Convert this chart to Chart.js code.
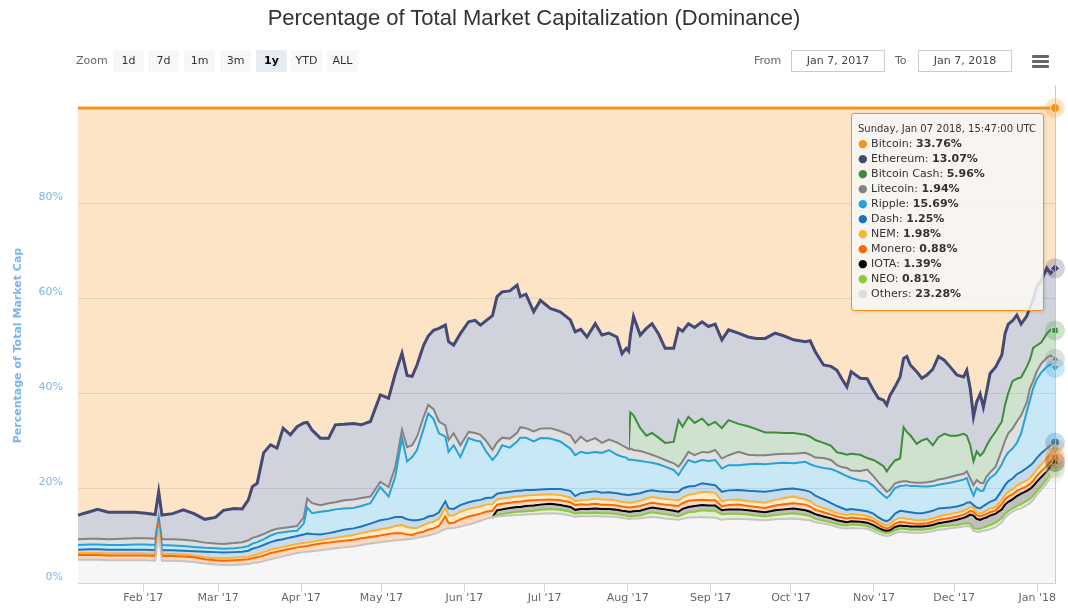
<!DOCTYPE html>
<html>
<head>
<meta charset="utf-8">
<title>Dominance</title>
<script src="https://cdn.jsdelivr.net/npm/chart.js@4/dist/chart.umd.min.js"></script>
<style>
  body { margin: 0; background: #fff; font-family: "DejaVu Sans", sans-serif; }
  #wrap { position: relative; width: 1068px; height: 608px; overflow: hidden; }
  #dominance { position: absolute; left: 0; top: 0; }
  .title { position: absolute; left: 0; top: 7px; width: 1068px; text-align: center;
           font: 22px/22px "Liberation Sans", Arial, sans-serif; color: #333; }
  .lbl { position: absolute; top: 50px; height: 22px; line-height: 22px; font-size: 11px; color: #666; }
  .btn { position: absolute; top: 50px; width: 31px; height: 22px; line-height: 22px; text-align: center;
         font-size: 11px; color: #333; background: #f7f7f7; border-radius: 2px; }
  .btn.on { background: #e6ebf5; color: #000; font-weight: bold; }
  .box { position: absolute; top: 50px; width: 92px; height: 20px; line-height: 20px; border: 1px solid #ccc;
         text-align: center; font-size: 11px; color: #444; }
  .bar { position: absolute; left: 1032px; width: 17px; height: 3px; background: #666; border-radius: 1px; }
  #tip { position: absolute; display: none; width: 193px; box-sizing: border-box; background: rgba(247,247,247,0.85);
         border: 1px solid #f7931a; border-radius: 3px; padding: 7px 6px 9px 6px; font-size: 11px; line-height: 15px;
         color: #333; white-space: nowrap; box-shadow: 1px 1px 3px rgba(0,0,0,0.12); }
  #tip .tt { font-size: 10px; }
</style>
</head>
<body>
<div id="wrap">
  <canvas id="dominance" width="1068" height="608"></canvas>
  <div class="title">Percentage of Total Market Capitalization (Dominance)</div>
  <div class="lbl" style="left:76px">Zoom</div>
  <div class="btn" style="left:113px">1d</div>
  <div class="btn" style="left:148px">7d</div>
  <div class="btn" style="left:184px">1m</div>
  <div class="btn" style="left:220px">3m</div>
  <div class="btn on" style="left:256px">1y</div>
  <div class="btn" style="left:291px">YTD</div>
  <div class="btn" style="left:327px">ALL</div>
  <div class="lbl" style="left:754px">From</div>
  <div class="box" style="left:791px">Jan 7, 2017</div>
  <div class="lbl" style="left:895px">To</div>
  <div class="box" style="left:918px">Jan 7, 2018</div>
  <div class="bar" style="top:55px"></div>
  <div class="bar" style="top:60px"></div>
  <div class="bar" style="top:65px"></div>
  <div id="tip"></div>
</div>
<script>
// days since 7 Jan 2017 00:00 UTC
const dayZero = Date.UTC(2017, 0, 7);
const DAY = 86400000;

const days = [0.6576, 5, 8, 12, 17, 22, 26, 29.5, 30.8, 32,
  36, 40, 44, 48, 52, 55, 59, 62, 64.3, 65.8,
  67.6, 70, 72.6, 75, 77.3, 80, 82.5, 85, 86.3, 88.1,
  91.2, 94.3, 96.8, 100, 103.6, 106.5, 109.9, 113.6, 116.7, 119.2,
  121.7, 123.6, 125.5, 127.3, 129.8, 131.5, 133.5, 135.5, 137.9, 139.1,
  141, 143.5, 146.6, 149, 151, 153, 155.5, 157.2, 159.1, 162,
  164.7, 165.9, 168, 170.9, 173.4, 177.1, 180.8, 184.6, 186.4, 188.5,
  190.8, 193.9, 196.4, 199, 202, 203.9, 205.5, 206.4, 207, 208.2,
  210.7, 213, 215.1, 217.5, 220, 223.2, 225, 226.5, 228.7, 231,
  233.8, 236.2, 238.7, 241.2, 243.7, 247.4, 251, 254, 257.4, 261.1,
  264.5, 268, 272.4, 274.2, 276.1, 279.2, 282, 284.2, 286, 287.9,
  289.5, 292.9, 295.5, 297.8, 299.7, 301.6, 302.8, 304, 305.9, 307.8,
  309.1, 310.3, 311.6, 314, 315.9, 317.8, 320, 322.1, 324.3, 326.5,
  329, 331.5, 332.7, 334, 335.2, 336.4, 337.7, 338.9, 340, 341.4,
  343.5, 345.8, 347, 348.2, 349.8, 351.4, 353, 355.1, 356.3, 357.5,
  358.8, 360.5, 362.6, 364, 365.6576];

const others = [4.9, 4.9, 4.9, 4.8, 4.8, 4.8, 4.8, 4.7, 10.5, 4.7,
  4.7, 4.6, 4.4, 4.1, 3.9, 3.8, 3.8, 3.9, 4.0, 4.2,
  4.3, 4.6, 5.0, 5.3, 5.6, 6.0, 6.3, 6.5, 6.6, 6.7,
  6.9, 7.1, 7.3, 7.5, 7.7, 8.0, 8.3, 8.6, 8.8, 9.0,
  9.1, 9.2, 9.3, 9.5, 9.8, 10.0, 10.3, 10.7, 11.4, 11.5,
  11.6, 11.9, 12.3, 12.7, 13.1, 13.5, 13.8, 14.0, 14.1, 14.2,
  14.3, 14.3, 14.4, 14.5, 14.6, 14.7, 14.6, 14.2, 13.9, 14.1,
  14.0, 14.1, 14.0, 14.0, 13.9, 13.7, 13.6, 13.5, 13.5, 13.6,
  13.6, 13.8, 13.9, 13.8, 13.6, 13.4, 13.3, 13.5, 13.8, 13.8,
  13.9, 13.8, 13.8, 13.3, 13.5, 13.5, 13.4, 13.3, 13.2, 13.4,
  13.5, 13.6, 13.3, 13.2, 12.8, 12.5, 12.2, 11.8, 11.6, 11.5,
  11.6, 11.5, 11.4, 10.9, 10.4, 10.0, 9.9, 10.0, 10.5, 10.8,
  10.7, 10.7, 10.6, 10.6, 10.6, 10.7, 10.9, 11.2, 11.3, 11.5,
  11.7, 11.9, 12.0, 11.9, 11.0, 10.8, 10.8, 11.0, 11.1, 11.3,
  11.8, 12.8, 13.8, 14.4, 15.0, 15.5, 15.7, 16.4, 16.8, 17.5,
  18.5, 19.6, 21.0, 22.3, 23.28];

const neo = [null, null, null, null, null, null, null, null, null, null,
  null, null, null, null, null, null, null, null, null, null,
  null, null, null, null, null, null, null, null, null, null,
  null, null, null, null, null, null, null, null, null, null,
  null, null, null, null, null, null, null, null, null, null,
  null, null, null, null, null, null, 0, 0.3, 0.4, 0.6,
  0.7, 0.7, 0.7, 0.7, 0.8, 0.9, 0.8, 0.8, 0.7, 0.7,
  0.7, 0.7, 0.7, 0.7, 0.6, 0.6, 0.6, 0.5, 0.5, 0.5,
  0.6, 0.8, 1.0, 0.9, 0.9, 0.8, 0.7, 0.9, 1.1, 1.2,
  1.4, 1.4, 1.4, 1.2, 1.1, 1.1, 1.0, 0.9, 0.8, 0.9,
  1.0, 1.1, 1.0, 0.9, 0.7, 0.6, 0.6, 0.6, 0.6, 0.6,
  0.7, 0.7, 0.6, 0.6, 0.6, 0.6, 0.6, 0.6, 0.6, 0.6,
  0.7, 0.6, 0.6, 0.6, 0.6, 0.6, 0.6, 0.7, 0.7, 0.6,
  0.5, 0.6, 0.6, 0.6, 0.5, 0.6, 0.6, 0.7, 0.8, 0.9,
  0.9, 0.9, 0.8, 0.7, 0.7, 0.7, 0.9, 0.9, 0.9, 0.9,
  0.8, 0.8, 0.9, 0.9, 0.81];

const iota = [null, null, null, null, null, null, null, null, null, null,
  null, null, null, null, null, null, null, null, null, null,
  null, null, null, null, null, null, null, null, null, null,
  null, null, null, null, null, null, null, null, null, null,
  null, null, null, null, null, null, null, null, null, null,
  null, null, null, null, null, null, 0, 1.0, 1.0, 1.0,
  1.0, 1.0, 1.1, 1.1, 1.1, 1.1, 1.0, 1.0, 0.8, 0.8,
  0.9, 0.9, 0.9, 0.9, 0.9, 0.9, 0.9, 1.0, 1.0, 1.0,
  1.0, 1.0, 1.0, 1.0, 1.0, 1.0, 1.0, 1.2, 1.1, 1.2,
  1.1, 1.1, 1.1, 0.8, 0.9, 0.9, 0.9, 0.9, 0.9, 1.0,
  1.0, 1.0, 1.0, 0.9, 1.0, 0.9, 0.8, 0.8, 0.8, 0.7,
  0.7, 0.7, 0.7, 0.7, 0.6, 0.5, 0.5, 0.5, 0.7, 0.7,
  0.6, 0.7, 0.7, 0.7, 0.7, 0.7, 0.7, 0.7, 0.8, 0.9,
  1.1, 1.2, 1.4, 1.9, 2.7, 2.1, 1.9, 1.9, 1.9, 2.0,
  1.9, 1.8, 1.9, 2.0, 1.9, 2.1, 2.2, 2.1, 2.1, 2.0,
  2.0, 1.9, 1.6, 1.4, 1.39];

const monero = [1.0, 1.0, 1.0, 1.0, 1.0, 1.0, 1.0, 1.0, 0.8, 1.0,
  1.0, 1.0, 1.0, 0.9, 0.9, 0.9, 1.0, 1.0, 1.0, 1.0,
  1.1, 1.2, 1.3, 1.3, 1.3, 1.2, 1.2, 1.2, 1.2, 1.3,
  1.4, 1.4, 1.4, 1.4, 1.4, 1.4, 1.4, 1.4, 1.5, 1.5,
  1.4, 1.0, 0.8, 1.0, 1.0, 1.2, 1.2, 1.3, 2.6, 1.1,
  1.1, 1.5, 1.7, 1.6, 1.5, 1.5, 1.4, 1.2, 1.2, 1.1,
  1.1, 1.1, 1.1, 1.1, 1.0, 0.9, 1.0, 1.0, 1.0, 1.0,
  0.9, 1.0, 0.9, 0.9, 0.9, 0.9, 0.9, 0.9, 0.9, 0.9,
  1.0, 1.0, 1.0, 1.0, 1.0, 1.1, 1.2, 1.2, 1.3, 1.2,
  1.1, 1.1, 1.1, 0.8, 0.9, 1.0, 0.9, 0.9, 0.9, 1.0,
  1.1, 1.1, 1.2, 1.1, 0.9, 0.9, 0.8, 0.8, 0.8, 0.8,
  0.8, 0.7, 0.7, 0.8, 0.7, 0.6, 0.5, 0.6, 0.7, 0.8,
  0.8, 0.7, 0.7, 0.6, 0.6, 0.6, 0.7, 0.7, 0.7, 0.7,
  0.7, 0.7, 0.7, 0.8, 0.8, 0.8, 0.7, 0.7, 0.7, 0.7,
  0.7, 1.1, 1.1, 1.1, 1.1, 1.1, 1.0, 1.0, 1.0, 1.1,
  1.2, 1.2, 1.1, 1.0, 0.88];

const nem = [0.4, 0.4, 0.4, 0.4, 0.4, 0.4, 0.4, 0.4, 0.3, 0.4,
  0.4, 0.4, 0.4, 0.4, 0.4, 0.5, 0.5, 0.5, 0.5, 0.6,
  0.6, 0.7, 0.7, 0.7, 0.7, 0.7, 0.7, 0.7, 0.7, 0.7,
  0.7, 0.8, 0.8, 0.9, 1.0, 1.1, 1.2, 1.3, 1.3, 1.5,
  1.7, 1.6, 1.5, 1.1, 1.4, 1.4, 1.4, 1.5, 1.8, 1.6,
  1.5, 1.6, 1.6, 1.6, 1.5, 1.5, 1.4, 1.1, 1.1, 1.1,
  1.1, 1.1, 1.1, 1.1, 1.1, 1.1, 1.1, 1.0, 0.8, 0.8,
  1.0, 1.1, 1.1, 1.1, 1.0, 1.0, 1.0, 1.0, 1.0, 1.0,
  1.1, 1.2, 1.2, 1.2, 1.2, 1.2, 1.2, 1.2, 1.3, 1.4,
  1.7, 1.7, 1.6, 1.1, 1.1, 1.1, 1.0, 1.1, 1.1, 1.2,
  1.3, 1.4, 1.1, 1.1, 1.0, 0.9, 0.8, 0.7, 0.7, 0.7,
  0.7, 0.7, 0.7, 0.6, 0.6, 0.6, 0.6, 0.7, 0.8, 0.8,
  0.8, 0.8, 0.8, 0.7, 0.7, 0.7, 0.7, 0.7, 0.8, 0.8,
  0.8, 0.8, 0.8, 0.8, 0.8, 0.6, 0.6, 0.6, 0.7, 0.8,
  0.7, 0.9, 0.9, 1.0, 1.0, 1.1, 1.2, 1.2, 1.3, 1.3,
  1.4, 1.4, 1.7, 1.8, 1.98];

const dash = [0.7, 0.8, 0.8, 0.8, 0.8, 0.8, 0.8, 0.8, 0.6, 0.8,
  0.8, 0.8, 0.9, 1.2, 1.3, 1.2, 1.2, 1.2, 1.3, 1.4,
  1.5, 1.5, 1.6, 1.7, 1.6, 1.7, 1.7, 1.8, 1.9, 1.6,
  1.2, 1.2, 1.3, 1.4, 1.4, 1.4, 1.6, 1.9, 1.9, 1.9,
  1.7, 1.6, 1.6, 1.6, 1.3, 1.4, 1.3, 1.4, 1.4, 1.5,
  1.4, 1.4, 1.4, 1.4, 1.4, 1.4, 1.4, 1.2, 1.2, 1.2,
  1.2, 1.2, 1.2, 1.1, 1.1, 1.1, 1.3, 1.4, 1.1, 1.5,
  1.6, 1.5, 1.4, 1.5, 1.6, 1.6, 1.6, 1.6, 1.7, 1.7,
  1.6, 1.5, 1.4, 1.4, 1.5, 1.6, 1.8, 1.9, 1.7, 1.6,
  1.8, 1.7, 1.6, 2.0, 2.0, 2.0, 2.2, 2.2, 2.3, 2.0,
  1.9, 1.7, 1.9, 2.0, 2.0, 1.8, 1.6, 1.5, 1.3, 1.1,
  1.1, 1.0, 1.0, 1.0, 0.9, 0.9, 0.9, 1.0, 1.3, 1.5,
  1.5, 1.5, 1.5, 1.5, 1.5, 1.6, 1.6, 1.7, 1.5, 1.4,
  1.3, 1.3, 1.4, 1.0, 0.6, 1.0, 1.1, 1.3, 1.4, 1.4,
  1.6, 2.0, 2.1, 2.2, 2.3, 2.4, 2.4, 2.6, 2.6, 2.5,
  2.4, 2.4, 2.0, 1.6, 1.25];

const ripple = [1.0, 1.0, 1.0, 1.0, 1.0, 1.1, 1.1, 1.1, 0.8, 1.1,
  1.0, 1.0, 0.9, 0.8, 0.8, 0.8, 0.8, 0.9, 1.0, 1.1,
  1.1, 1.2, 1.4, 1.5, 1.5, 1.3, 1.1, 2.3, 5.5, 4.4,
  4.8, 4.7, 4.7, 4.5, 4.3, 4.3, 4.3, 7.0, 4.7, 8.5,
  16.6, 12.2, 13.3, 14.8, 19.0, 21.7, 20.3, 16.6, 13.6, 11.9,
  13.4, 10.1, 13.5, 12.7, 12.3, 9.9, 7.9, 8.2, 10.0, 9.3,
  10.4, 11.2, 11.0, 10.2, 10.8, 10.6, 10.0, 8.9, 8.6, 8.7,
  8.2, 8.3, 8.4, 8.9, 8.1, 7.9, 7.8, 7.4, 7.4, 7.2,
  6.8, 6.2, 5.8, 5.7, 5.3, 4.7, 3.5, 4.2, 5.6, 5.0,
  4.9, 4.9, 5.3, 4.9, 5.3, 5.2, 5.6, 5.8, 5.8, 5.7,
  5.5, 5.3, 6.0, 5.8, 6.2, 6.6, 7.2, 7.3, 7.2, 7.1,
  6.5, 6.3, 6.3, 5.9, 5.6, 5.2, 4.9, 5.1, 5.4, 5.2,
  5.4, 5.6, 5.5, 5.7, 5.6, 5.4, 5.2, 5.0, 5.1, 5.2,
  5.3, 5.3, 5.2, 3.0, 2.0, 4.1, 3.7, 3.2, 4.4, 5.0,
  5.4, 5.5, 5.9, 6.1, 6.3, 6.6, 8.1, 11.8, 13.8, 15.7,
  16.5, 17.0, 17.2, 17.0, 15.69];

const litecoin = [1.2, 1.2, 1.2, 1.2, 1.3, 1.3, 1.3, 1.3, 0.9, 1.2,
  1.3, 1.3, 1.3, 1.1, 1.0, 1.0, 1.1, 1.1, 1.2, 1.2,
  1.2, 1.1, 1.0, 0.9, 0.9, 0.9, 1.0, 1.3, 1.9, 2.1,
  1.4, 1.6, 1.5, 1.7, 1.8, 1.7, 1.4, 1.1, 2.0, 2.0,
  1.8, 3.0, 2.5, 2.8, 2.5, 1.8, 2.1, 2.5, 2.4, 2.5,
  2.5, 2.5, 1.3, 1.6, 1.4, 2.2, 2.1, 2.6, 1.6, 1.9,
  1.8, 2.2, 2.0, 2.1, 2.0, 2.2, 2.2, 2.8, 2.6, 3.2,
  2.5, 2.9, 2.1, 2.2, 2.6, 2.4, 2.1, 2.3, 2.3, 2.1,
  2.1, 1.9, 1.7, 1.5, 1.4, 1.4, 1.8, 1.5, 1.7, 1.5,
  1.7, 1.8, 2.1, 2.1, 2.1, 2.8, 2.0, 1.8, 1.9, 1.9,
  1.9, 2.0, 1.9, 2.0, 1.8, 2.1, 1.9, 1.3, 1.4, 1.7,
  1.6, 2.0, 2.5, 2.0, 1.8, 1.6, 1.3, 1.1, 1.0, 0.9,
  0.9, 0.8, 0.8, 0.7, 0.8, 0.9, 1.0, 1.1, 1.1, 1.2,
  1.3, 1.2, 1.4, 2.0, 2.2, 1.7, 1.7, 1.6, 1.3, 1.2,
  1.5, 3.0, 3.5, 4.0, 4.2, 4.5, 3.8, 2.0, 2.5, 1.5,
  1.7, 1.9, 1.9, 1.9, 1.94];

const bitcoinCash = [null, null, null, null, null, null, null, null, null, null,
  null, null, null, null, null, null, null, null, null, null,
  null, null, null, null, null, null, null, null, null, null,
  null, null, null, null, null, null, null, null, null, null,
  null, null, null, null, null, null, null, null, null, null,
  null, null, null, null, null, null, null, null, null, null,
  null, null, null, null, null, null, null, null, null, null,
  null, null, null, null, null, null, null, 0, 7.6, 7.3,
  4.8, 3.6, 4.6, 4.1, 3.6, 4.5, 9.8, 7.3, 7.4, 6.8,
  7.0, 5.7, 5.9, 6.4, 7.4, 5.9, 6.0, 5.5, 4.8, 4.6,
  4.4, 4.4, 3.8, 3.8, 3.7, 3.2, 3.0, 2.7, 2.9, 2.8,
  3.5, 3.4, 2.4, 3.4, 4.1, 4.6, 4.3, 4.9, 4.8, 4.9,
  11.4, 10.4, 9.9, 8.2, 8.9, 9.2, 7.6, 8.9, 9.4, 8.7,
  8.3, 8.4, 7.5, 7.0, 5.0, 6.0, 5.7, 6.5, 6.5, 6.9,
  7.4, 6.0, 7.5, 8.5, 10.0, 9.0, 8.0, 7.5, 6.0, 7.0,
  5.5, 4.4, 5.1, 5.4, 5.96];

const ethereum = [5.1, 5.7, 6.2, 5.7, 5.6, 5.5, 5.3, 5.1, 5.3, 5.1,
  5.4, 6.3, 5.7, 4.9, 5.5, 7.1, 7.3, 7.0, 8.5, 10.8,
  11.2, 17.1, 18.1, 17.0, 21.0, 19.4, 20.9, 19.9, 16.0, 15.4,
  14.1, 13.7, 16.3, 16.0, 16.0, 15.4, 15.8, 18.3, 18.7, 19.7,
  16.1, 15.1, 14.5, 15.1, 15.1, 14.5, 16.6, 19.6, 21.1, 20.7,
  18.6, 23.5, 23.2, 23.7, 23.1, 25.2, 28.3, 30.7, 30.7, 31.1,
  31.1, 27.5, 28.2, 25.2, 27.0, 25.2, 25.1, 24.3, 23.4, 22.6,
  22.0, 24.1, 22.7, 22.4, 22.2, 19.3, 20.9, 20.6, 16.1, 20.8,
  19.6, 22.6, 23.0, 21.9, 19.9, 19.7, 19.3, 20.1, 19.6, 20.1,
  20.4, 20.8, 20.6, 18.6, 19.0, 19.1, 18.8, 19.1, 19.8, 20.9,
  20.4, 19.6, 19.6, 20.2, 18.6, 16.4, 16.7, 17.3, 15.7, 14.3,
  17.3, 16.1, 16.7, 14.7, 13.6, 13.9, 14.0, 15.0, 15.5, 17.2,
  14.5, 15.9, 14.8, 15.2, 13.1, 13.4, 16.0, 17.0, 15.5, 14.5,
  12.8, 12.0, 13.8, 11.9, 9.4, 10.4, 13.0, 9.5, 11.2, 13.9,
  13.6, 14.0, 15.0, 14.5, 12.7, 13.4, 11.2, 10.7, 11.0, 10.1,
  12.4, 13.0, 13.8, 11.9, 13.07];

const bitcoin = [85.7, 85.0, 84.5, 85.1, 85.1, 85.1, 85.3, 85.6, 80.8, 85.7,
  85.4, 84.6, 85.4, 86.6, 86.2, 84.7, 84.3, 84.4, 82.5, 79.7,
  79.0, 72.6, 70.9, 71.6, 67.4, 68.8, 67.1, 66.3, 66.2, 67.8,
  69.5, 69.5, 66.7, 66.6, 66.4, 66.7, 66.0, 60.4, 61.1, 55.9,
  51.6, 56.3, 56.5, 54.1, 49.9, 48.0, 46.8, 46.4, 45.7, 49.2,
  49.9, 47.5, 45.0, 44.7, 45.7, 44.8, 43.7, 39.7, 38.7, 38.5,
  37.3, 39.7, 39.2, 42.9, 40.5, 42.2, 42.9, 44.6, 47.1, 46.6,
  48.2, 45.4, 47.8, 47.4, 48.2, 51.7, 50.6, 51.2, 48.0, 43.9,
  47.8, 46.4, 45.4, 47.5, 50.6, 50.6, 46.4, 47.0, 45.4, 46.2,
  45.0, 46.0, 45.5, 48.8, 46.7, 47.4, 48.2, 48.5, 48.5, 47.4,
  48.0, 48.8, 49.2, 49.0, 51.3, 54.1, 54.4, 55.2, 57.0, 58.7,
  55.5, 56.9, 57.0, 59.4, 61.1, 61.5, 62.5, 60.5, 58.7, 56.6,
  52.7, 52.3, 54.1, 55.5, 56.9, 56.2, 55.0, 52.3, 53.1, 54.5,
  56.2, 56.6, 55.2, 59.1, 65.0, 61.9, 60.2, 63.0, 60.0, 55.9,
  54.5, 52.0, 47.5, 45.5, 44.8, 43.6, 45.5, 43.8, 42.0, 40.4,
  37.6, 36.4, 33.7, 34.8, 33.76];

const monthLabels = ["Feb '17", "Mar '17", "Apr '17", "May '17", "Jun '17", "Jul '17",
  "Aug '17", "Sep '17", "Oct '17", "Nov '17", "Dec '17", "Jan '18"];
const monthTicks = monthLabels.map((_, i) => (Date.UTC(2017, 1 + i, 1) - dayZero) / DAY);

// stack order: bottom first
const series = [
  { label: 'Others', values: others, color: '#dcdcdc', line: '#c4c4c4', style: 'circle' },
  { label: 'NEO', values: neo, color: '#8dc63f', style: 'triangle', rot: 180 },
  { label: 'IOTA', values: iota, color: '#000000', style: 'triangle' },
  { label: 'Monero', values: monero, color: '#ff6600', style: 'rect' },
  { label: 'NEM', values: nem, color: '#f9b233', style: 'rectRot' },
  { label: 'Dash', values: dash, color: '#1c75bc', style: 'circle' },
  { label: 'Ripple', values: ripple, color: '#23a2dd', style: 'triangle', rot: 180 },
  { label: 'Litecoin', values: litecoin, color: '#838383', style: 'triangle' },
  { label: 'Bitcoin Cash', values: bitcoinCash, color: '#3c8c3c', style: 'rect' },
  { label: 'Ethereum', values: ethereum, color: '#454a75', style: 'rectRot', width: 3 },
  { label: 'Bitcoin', values: bitcoin, color: '#f7931a', style: 'circle', width: 3 }
];

function fade(hex, a) {
  const n = parseInt(hex.slice(1), 16);
  return `rgba(${n >> 16},${(n >> 8) & 255},${n & 255},${a})`;
}

// coins listed later in the year: hide their line until the first value
function lineColor(s) {
  const first = s.values.findIndex(v => v !== null);
  if (first <= 0) return s.line || s.color;
  return ctx => {
    const chart = ctx.chart;
    if (!chart.chartArea) return s.color;
    const f = Math.min(Math.max(chart.scales.x.getPixelForValue(days[first]) / chart.width, 0), 1);
    const g = chart.ctx.createLinearGradient(0, 0, chart.width, 0);
    g.addColorStop(0, 'rgba(0,0,0,0)');
    g.addColorStop(f, 'rgba(0,0,0,0)');
    g.addColorStop(f, s.color);
    g.addColorStop(1, s.color);
    return g;
  };
}

const weekDays = ['Sunday', 'Monday', 'Tuesday', 'Wednesday', 'Thursday', 'Friday', 'Saturday'];
const monthNames = ['Jan', 'Feb', 'Mar', 'Apr', 'May', 'Jun', 'Jul', 'Aug', 'Sep', 'Oct', 'Nov', 'Dec'];
function stamp(day) {
  const d = new Date(Math.round((dayZero + day * DAY) / 60000) * 60000);
  const p = n => String(n).padStart(2, '0');
  return `${weekDays[d.getUTCDay()]}, ${monthNames[d.getUTCMonth()]} ${p(d.getUTCDate())} ${d.getUTCFullYear()}, ` +
    `${p(d.getUTCHours())}:${p(d.getUTCMinutes())}:00 UTC`;
}

function renderTip({ chart, tooltip }) {
  const tip = document.getElementById('tip');
  if (!tooltip.dataPoints || !tooltip.dataPoints.length) { tip.style.display = 'none'; return; }
  const pts = tooltip.dataPoints.slice().sort((a, b) => b.datasetIndex - a.datasetIndex);
  let html = '<div class="tt">' + stamp(pts[0].parsed.x) + '</div>';
  pts.forEach(p => {
    const s = series[p.datasetIndex];
    html += `<div><span style="color:${s.color}">\u25CF</span> ${s.label}: <b>${p.raw.y.toFixed(2)}%</b></div>`;
  });
  tip.innerHTML = html;
  tip.style.borderColor = series[pts[0].datasetIndex].color;
  tip.style.display = 'block';
  tip.style.left = (tooltip.caretX - 11 - tip.offsetWidth) + 'px';
  tip.style.top = (chart.chartArea.top + 5) + 'px';
}

// crosshair + halos round the hovered points
const hoverMarks = {
  id: 'hoverMarks',
  afterDatasetsDraw(chart) {
    const act = chart.getActiveElements();
    if (!act.length) return;
    const ctx = chart.ctx;
    ctx.save();
    const x = Math.round(act[0].element.x) + 0.5;
    ctx.strokeStyle = '#cccccc';
    ctx.lineWidth = 1;
    ctx.beginPath();
    ctx.moveTo(x, chart.chartArea.top - 23);
    ctx.lineTo(x, chart.chartArea.bottom);
    ctx.stroke();
    act.forEach(a => {
      ctx.globalAlpha = 0.25;
      ctx.fillStyle = series[a.datasetIndex].color;
      ctx.beginPath();
      ctx.arc(a.element.x, a.element.y, 10, 0, Math.PI * 2);
      ctx.fill();
    });
    ctx.restore();
  }
};

Chart.defaults.font.family = '"DejaVu Sans", sans-serif';

const chart = new Chart(document.getElementById('dominance'), {
  type: 'line',
  data: {
    datasets: series.map((s, i) => ({
      label: s.label,
      data: days.map((d, j) => ({ x: d, y: s.values[j] === null ? 0 : s.values[j] })),
      borderColor: lineColor(s),
      backgroundColor: fade(s.color, 0.25),
      borderWidth: s.width || 2,
      fill: i === 0 ? 'origin' : '-1',
      tension: 0,
      pointRadius: 0,
      pointHoverRadius: 4.5,
      pointStyle: s.style,
      pointRotation: s.rot || 0,
      pointHoverBackgroundColor: s.color,
      pointHoverBorderColor: '#ffffff',
      pointHoverBorderWidth: 1,
      clip: false
    }))
  },
  options: {
    responsive: false,
    animation: false,
    events: [],
    layout: { padding: { top: 108, right: 13, bottom: 0, left: 0 } },
    interaction: { mode: 'index', intersect: false },
    plugins: {
      legend: { display: false },
      filler: { propagate: false },
      tooltip: { enabled: false, mode: 'index', intersect: false, external: renderTip }
    },
    scales: {
      x: {
        type: 'linear',
        min: days[0],
        max: days[days.length - 1],
        afterBuildTicks: axis => { axis.ticks = monthTicks.map(v => ({ value: v })); },
        afterFit: axis => { axis.height = 25; },
        grid: { drawOnChartArea: false, tickLength: 9, color: '#ccd6eb' },
        border: { color: '#ccd6eb' },
        ticks: {
          autoSkip: false, maxRotation: 0, padding: 0, color: '#666666',
          font: { size: 11 },
          callback: (v, i) => monthLabels[i]
        }
      },
      y: {
        stacked: true,
        min: 0,
        max: 100,
        afterFit: axis => { axis.width = 78; },
        grid: { color: '#e6e6e6', drawTicks: false },
        border: { display: false },
        ticks: {
          stepSize: 20, padding: 15, labelOffset: -6, color: '#7cb5ec',
          font: { size: 11 },
          callback: v => v === 100 ? '' : v + '%'
        },
        title: {
          display: true, text: 'Percentage of Total Market Cap', color: '#7cb5ec',
          font: { size: 11, weight: 'bold' }, padding: { top: 12, bottom: 0 }
        }
      }
    }
  },
  plugins: [hoverMarks]
});

const last = days.length - 1;
const active = series.map((s, i) => ({ datasetIndex: i, index: last }));
chart.setActiveElements(active);
chart.tooltip.setActiveElements(active, { x: 0, y: 0 });
chart.update();
</script>
</body>
</html>
